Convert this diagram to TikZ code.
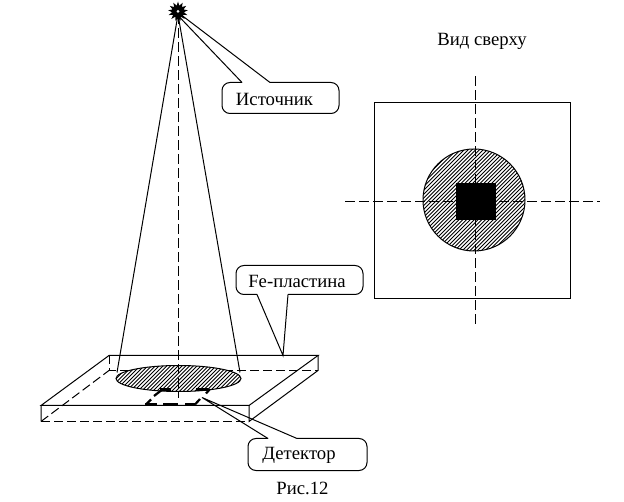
\documentclass[tikz,border=0pt]{standalone}
\usepackage{fontspec}
\setmainfont{Liberation Serif}
\usetikzlibrary{shapes.geometric}
\tikzset{
  axisline/.style={dash pattern=on 10pt off 4pt},
  hiddenline/.style={dash pattern=on 9pt off 4pt},
  lbl/.style={inner sep=0pt,font=\fontsize{18.7}{20}\selectfont},
  hatchline/.style={line width=0.9pt},
  det/.style={line width=2.2pt},
  callout/.style={rounded corners=8pt}
}
\begin{document}
\begin{tikzpicture}[x=1pt,y=-1pt,line width=1pt]
\useasboundingbox (0,0) rectangle (624,502);
\fill[white] (0,0) rectangle (624,502);
\begin{scope}[shift={(0,0.5)}]
% plate corners
\coordinate (tbl) at (109,355); \coordinate (tbr) at (318,355);
\coordinate (tfl) at (41,405);  \coordinate (tfr) at (249,405);
\coordinate (bbl) at (109,370); \coordinate (bbr) at (318,370);
\coordinate (bfl) at (41,421);  \coordinate (bfr) at (249,421);
\coordinate (apex) at (178,14);
\coordinate (coneL) at (117,372); \coordinate (coneR) at (240,372);
\coordinate (axisEnd) at (178,398);
% plate
\draw (tfl) -- (tbl) -- (tbr) -- (tfr) -- cycle;
\draw (tfl) -- (bfl) (tfr) -- (bfr) -- (bbr) -- (tbr);
\draw[hiddenline] (tbl) -- (bbl) -- (bbr);
\draw[hiddenline] (bfl) -- (bfr);
\draw[hiddenline] (bfl) -- (bbl);
% cone
\draw (apex) -- (coneL);
\draw (apex) -- (coneR);
% ellipse
\begin{scope}
\clip (178.5,378) ellipse (62.5 and 13);
\fill[white] (100,360) rectangle (260,400);
\foreach \k in {0,3.8,...,240}{\draw[hatchline] (60+\k,400) -- (100+\k,360);}
\end{scope}
\draw (178.5,378) ellipse (62.5 and 13);
\draw[axisline] (apex) -- (axisEnd);
% detector
\draw[det] (145,404) -- (157,404) (163,404) -- (178,404) (185,404) -- (195,404);
\draw[det] (195,404) -- (200,398.5) (206,393) -- (210,388.5);
\draw[det] (146,404) -- (151,399) (154,395.5) -- (163,388.5);
\draw[det] (160,389) -- (171,389) (196,389) -- (208,389);
% source
\node[star,star points=13,star point ratio=1.7,minimum size=20pt,inner sep=0pt,fill=black] (src) at (178,11) {};
\fill[white] (src.center) circle (1.5);
% callouts
\coordinate (s1) at (242,82); \coordinate (s2) at (270,82);
\coordinate (s0) at (178,15); \coordinate (s00) at (182,15);
\draw (s1) -- (s0) (s00) -- (s2);
\draw[callout] (242,82) -- (222,82) -- (222,113) -- (339,113) -- (339,82) -- (270,82);
\node[lbl] (srcl) at (274.5,99) {Источник};

\coordinate (f1) at (257,294); \coordinate (f2) at (288,294); \coordinate (f0) at (283,355);
\draw (f1) -- (f0) -- (f2);
\draw[callout] (257,294) -- (236,294) -- (236,265) -- (363,265) -- (363,294) -- (288,294);
\node[lbl] (fel) at (297,281) {Fe-пластина};

\coordinate (e1) at (268,438); \coordinate (e2) at (297,438); \coordinate (e0) at (202,397);
\draw (e1) -- (e0) -- (e2);
\draw[callout] (268,438) -- (248,438) -- (248,470) -- (367,470) -- (367,438) -- (297,438);
\node[lbl] (detl) at (299,455) {Детектор};

\node[lbl] (fig) at (302.5,488) {Рис.12};
\node[lbl] (top) at (482,41) {Вид сверху};
% top view
\draw (374.5,102) rectangle (570,298);
\begin{scope}
\clip (474,199.5) circle (51);
\fill[white] (420,145) rectangle (530,255);
\foreach \k in {0,3.8,...,220}{\draw[hatchline] (313+\k,255) -- (423+\k,145);}
\end{scope}
\draw (474,199.5) circle (51);
\draw[axisline] (475,76) -- (475,325);
\draw[axisline] (345,201) -- (600,201);
\fill[black] (456,183) rectangle (496,220);
\end{scope}
\end{tikzpicture}
\end{document}
